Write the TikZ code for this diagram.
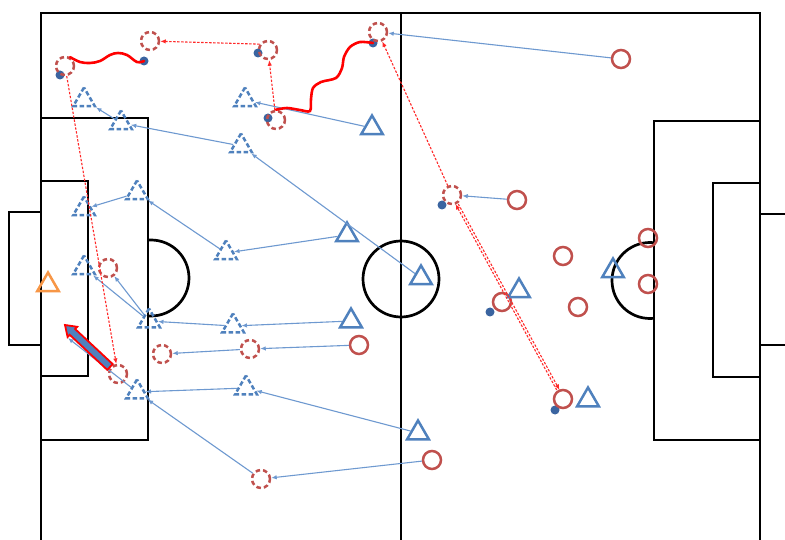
\documentclass[tikz,border=0pt]{standalone}
\usetikzlibrary{arrows.meta,shapes.geometric}
\definecolor{pred}{HTML}{C0504D}
\definecolor{pblue}{HTML}{4F81BD}
\definecolor{lblue}{HTML}{6E99D0}
\definecolor{dblue}{HTML}{3A64A0}
\definecolor{porange}{HTML}{F79646}
\definecolor{passc}{HTML}{FF2828}
\begin{document}
\begin{tikzpicture}[x=1pt,y=-1pt,
 pitch/.style={line width=2.7pt, black},
 redp/.style={circle, draw=pred, line width=2.5pt, minimum size=18pt, inner sep=0pt},
 redg/.style={redp, dash pattern=on 4.5pt off 3pt},
 bluep/.style={regular polygon, regular polygon sides=3, draw=pblue, line width=2.5pt, minimum size=25pt, inner sep=0pt, yshift=-3pt},
 blueg/.style={bluep, dash pattern=on 4.5pt off 2.5pt},
 orp/.style={bluep, draw=porange},
 ballp/.style={circle, fill=dblue, minimum size=9pt, inner sep=0pt},
 run/.style={lblue, line width=1.1pt, -{Latex[length=5.5pt,width=4.5pt]}},
 passp/.style={passc, line width=1.1pt, dash pattern=on 2.4pt off 1.6pt, -{Latex[length=5.5pt,width=4.5pt]}},
 drib/.style={red, line width=2.6pt, line cap=round},
]
\useasboundingbox (0,0) rectangle (785,540);
\fill[white] (0,0) rectangle (785,540);
% pitch
\draw[pitch] (41,545) -- (41,13) -- (760,13) -- (760,545);
\draw[pitch] (401,13) -- (401,545);
\draw[pitch] (41,118) -- (148,118) -- (148,440) -- (41,440);
\draw[pitch] (41,181) -- (88,181) -- (88,376) -- (41,376);
\draw[pitch] (41,212) -- (9,212) -- (9,345) -- (41,345);
\draw[pitch] (401,279) circle (38);
\begin{scope}
 \clip (148,0) rectangle (400,540);
 \draw[pitch] (151,278) circle (38);
\end{scope}
\draw[pitch] (760,121) -- (654,121) -- (654,440) -- (760,440);
\draw[pitch] (760,183) -- (713,183) -- (713,377) -- (760,377);
\draw[pitch] (760,214) -- (790,214);
\draw[pitch] (760,345) -- (790,345);
\begin{scope}
 \clip (400,0) rectangle (654,540);
 \draw[pitch] (650,280.5) circle (38);
\end{scope}
% balls
\node[ballp] (b1) at (60,75) {};
\node[ballp] (b2) at (144,61) {};
\node[ballp] (b3) at (258,53) {};
\node[ballp] (b4) at (268,118) {};
\node[ballp] (b5) at (373,43) {};
\node[ballp] (b6) at (442,205) {};
\node[ballp] (b7) at (490,312) {};
\node[ballp] (b8) at (555,410) {};
% red players
\node[redp] (r1) at (621,59) {};
\node[redp] (r2) at (517,200) {};
\node[redp] (r3) at (502,302) {};
\node[redp] (r4) at (563,256) {};
\node[redp] (r5) at (578,307) {};
\node[redp] (r6) at (563,399) {};
\node[redp] (r7) at (648,238) {};
\node[redp] (r8) at (648,284) {};
\node[redp] (r9) at (359,345) {};
\node[redp] (r10) at (432,460) {};
\node[redg] (rd1) at (65,66) {};
\node[redg] (rd2) at (150,41) {};
\node[redg] (rd3) at (268,50) {};
\node[redg] (rd4) at (276,120) {};
\node[redg] (rd5) at (378,32) {};
\node[redg] (rd6) at (452,195) {};
\node[redg] (rd7) at (108,268) {};
\node[redg] (rd8) at (250,349) {};
\node[redg] (rd9) at (162,354) {};
\node[redg] (rd10) at (118,374) {};
\node[redg] (rd11) at (261,479) {};
% blue players
\node[bluep] (t1) at (372,125) {};
\node[bluep] (t2) at (421,275) {};
\node[bluep] (t3) at (347,232) {};
\node[bluep] (t4) at (351,318) {};
\node[bluep] (t5) at (418,430) {};
\node[bluep] (t6) at (519,288) {};
\node[bluep] (t7) at (588,397) {};
\node[bluep] (t8) at (613,268) {};
\node[orp] (o1) at (48,282) {};
\node[blueg] (td1) at (84,97) {};
\node[blueg] (td2) at (121,120) {};
\node[blueg] (td3) at (245,97) {};
\node[blueg] (td4) at (241,143) {};
\node[blueg] (td5) at (137,190) {};
\node[blueg] (td6) at (84,206) {};
\node[blueg] (td7) at (226,250) {};
\node[blueg] (td8) at (84,265) {};
\node[blueg] (td9) at (149,318) {};
\node[blueg] (td10) at (233,323) {};
\node[blueg] (td11) at (246,385) {};
\node[blueg] (td12) at (137,389) {};
\coordinate (c1) at (68,338);
% blue runs
\draw[run] (r1) -- (rd5);
\draw[run] (r2) -- (rd6);
\draw[run] (t1) -- (td3);
\draw[run] (t2) -- (td4);
\draw[run] (td4) -- (td2);
\draw[run] (td2) -- (td1);
\draw[run] (t3) -- (td7);
\draw[run] (td7) -- (td5);
\draw[run] (td5) -- (td6);
\draw[run] (t4) -- (td10);
\draw[run] (td10) -- (td9);
\draw[run] (td9) -- (td8);
\draw[run] (td9) -- (rd7);
\draw[run] (r9) -- (rd8);
\draw[run] (rd8) -- (rd9);
\draw[run] (t5) -- (td11);
\draw[run] (td11) -- (td12);
\draw[run] (r10) -- (rd11);
\draw[run] (rd11) -- (td12);
\draw[run] (td12) -- (c1);
% passes
\draw[passp] (rd3.145) -- (rd2);
\draw[passp] (rd4) -- (rd3);
\draw[passp] (rd6) -- (rd5);
\draw[passp] (rd1) -- (rd10);
\draw[passp, transform canvas={xshift=1.4pt}] (rd6) -- (r6);
\draw[passp, transform canvas={xshift=-1.4pt}] (r6) -- (rd6);
% dribbles
\draw[drib] plot[smooth, tension=0.6] coordinates {(rd1.60) (80,62) (90,63) (100,61) (110,55) (118,53) (127,55) (137,62) (b2)};
\draw[drib] plot[smooth, tension=0.5] coordinates {(rd4.north) (287,108) (300,110) (310,111) (311,99) (313,88) (321,82) (336,78) (342,68) (344,57) (350,47) (360,42) (b5)};
% shot arrow
\filldraw[draw=red, fill=pblue, line width=1.8pt, line join=miter]
 (112.7,364.1) -- (75.1,329.0) -- (77.2,326.8) -- (65,325) -- (67.6,337.0) -- (69.7,334.8) -- (107.3,369.9) -- cycle;
\end{tikzpicture}
\end{document}
